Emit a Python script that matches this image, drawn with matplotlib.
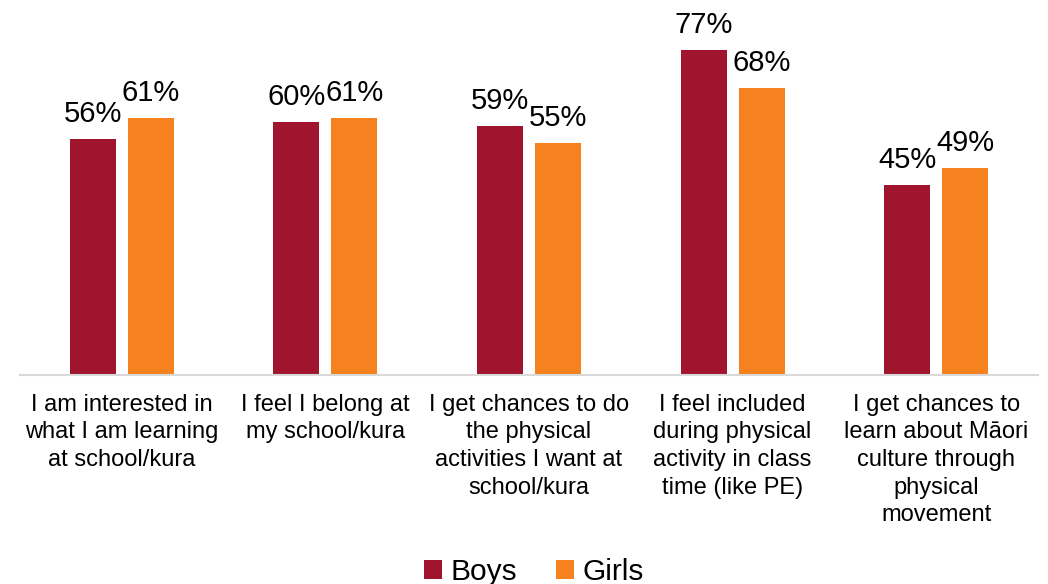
import matplotlib
matplotlib.use("Agg")
import matplotlib.pyplot as plt
import numpy as np

categories = [
    "I am interested in\nwhat I am learning\nat school/kura",
    "I feel I belong at\nmy school/kura",
    "I get chances to do\nthe physical\nactivities I want at\nschool/kura",
    "I feel included\nduring physical\nactivity in class\ntime (like PE)",
    "I get chances to\nlearn about Māori\nculture through\nphysical\nmovement",
]
boys = [56, 60, 59, 77, 45]
girls = [61, 61, 55, 68, 49]
series_names = ["Boys", "Girls"]
colors = ["#A0152D", "#F5821F"]

plt.rcParams["font.family"] = ["Liberation Sans", "DejaVu Sans"]

fig = plt.figure(figsize=(10.48, 5.84), dpi=100)
ax = fig.add_axes([20 / 1048, 1 - 375 / 584, 1018 / 1048, (375 - 37.3) / 584])

x = np.arange(len(categories))
width = 46 / 203.6
offset = 29 / 203.6

for vals, off, col, name in zip([boys, girls], [-offset, offset], colors, series_names):
    bars = ax.bar(x + off, vals, width=width, color=col, label=name, zorder=2)
    for b, v in zip(bars, vals):
        ax.text(b.get_x() + b.get_width() / 2, v + 2.6, f"{v}%",
                ha="center", va="bottom", fontsize=21, color="#000000",
                clip_on=False)

ax.set_xlim(-0.5, len(categories) - 0.5)
ax.set_ylim(0, 80)
ax.set_yticks([])
ax.set_xticks(x)
ax.set_xticklabels(categories, fontsize=17, linespacing=1.33)
ax.tick_params(axis="x", length=0, pad=13.5)
for s in ["top", "right", "left"]:
    ax.spines[s].set_visible(False)
ax.spines["bottom"].set_color("#D9D9D9")
ax.spines["bottom"].set_linewidth(1.5)
ax.spines["bottom"].set_zorder(3)

fig.legend(loc="center", bbox_to_anchor=(534 / 1048, 1 - 572 / 584), ncol=2,
           frameon=False, fontsize=21.5, handlelength=0.6, handleheight=0.6,
           handletextpad=0.3, columnspacing=1.3, borderaxespad=0)

fig.savefig("out.png", dpi=100)
